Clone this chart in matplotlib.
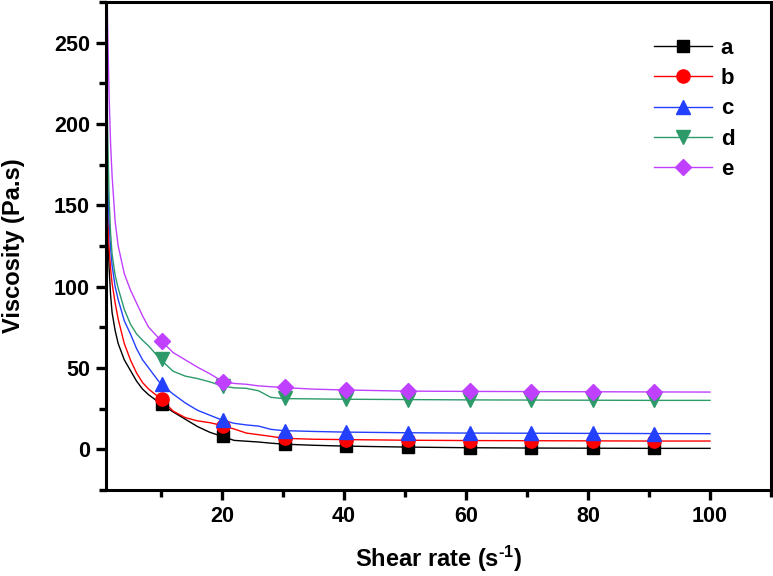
import matplotlib
matplotlib.use("Agg")
import matplotlib.pyplot as plt
from matplotlib.ticker import MultipleLocator

plt.rcParams['font.family'] = ['Liberation Sans', 'DejaVu Sans']
plt.rcParams['font.weight'] = 'bold'
plt.rcParams['mathtext.fontset'] = 'custom'
plt.rcParams['mathtext.rm'] = 'Liberation Sans:bold'
plt.rcParams['mathtext.bf'] = 'Liberation Sans:bold'
plt.rcParams['mathtext.it'] = 'Liberation Sans:bold'

# Shear rate grid for the continuous curves (s^-1)
shear = [1, 1.25, 1.5, 1.75, 2, 2.5, 3, 4, 5, 6, 7, 8, 10, 12, 14, 16, 18, 20, 22, 24, 26,
         28, 30, 35, 40, 50, 60, 70, 80, 90, 100]

visc_a = [175, 137, 112, 95, 84, 73, 65, 55, 48.5, 42, 37, 33.5, 28, 23, 18.5, 14, 10.5, 8, 5.5,
          5, 4.5, 3.8, 3.2, 2.5, 2.0, 1.4, 1.0, 0.8, 0.7, 0.6, 0.6]
visc_b = [190, 150, 124, 111, 102, 90, 80, 65, 55, 47, 41, 37, 31, 23.5, 19.5, 17.5, 16.4, 14.7,
          12.5, 10, 9, 8, 6.8, 6.2, 6.0, 5.6, 5.4, 5.3, 5.2, 5.1, 5.1]
visc_c = [230, 172, 140, 124, 113, 100, 92, 79, 71, 62, 55, 50, 40, 34, 28.5, 24, 21, 18, 16,
          15, 14.3, 12.3, 11.5, 11, 10.6, 10.2, 10, 9.9, 9.8, 9.7, 9.6]
visc_d = [280, 200, 155, 133, 120, 107, 99, 86, 77, 71, 67, 63.5, 55, 48, 45, 43.5, 41.5, 39,
          37.8, 37.5, 36, 32, 31.2, 31, 30.8, 30.6, 30.4, 30.3, 30.2, 30.1, 30.1]
visc_e = [340, 262, 218, 188, 168, 140, 125, 108, 98, 90, 82, 75, 67, 59.5, 55, 50.5, 46.5, 42,
          40.5, 40, 39, 38.5, 38, 37, 36.5, 35.8, 35.6, 35.5, 35.4, 35.3, 35.2]

# Marker positions
shear_m = [10.1, 20.2, 30.3, 40.4, 50.5, 60.6, 70.7, 80.8, 90.9]
mark_a = [28, 8, 3.5, 2, 1.5, 1, 1, 0.8, 0.7]
mark_b = [31, 14.5, 7, 6, 5.6, 5.4, 5.3, 5.2, 5.1]
mark_c = [40, 18, 11.5, 10.6, 10.2, 10, 9.9, 9.8, 9.7]
mark_d = [55.5, 39, 31.3, 30.8, 30.6, 30.4, 30.3, 30.2, 30.1]
mark_e = [66.5, 41.5, 38.2, 36.5, 35.8, 35.6, 35.5, 35.4, 35.2]

labels = ['a', 'b', 'c', 'd', 'e']
colors = ['#000000', '#FF0000', '#2440FF', '#2E9A6A', '#C040FF']
markers = ['s', 'o', '^', 'v', 'D']
msizes = [8.5, 9.5, 9.5, 9.5, 8.5]

curves = [visc_a, visc_b, visc_c, visc_d, visc_e]
marks = [mark_a, mark_b, mark_c, mark_d, mark_e]

fig = plt.figure(figsize=(7.73, 5.76), dpi=100)
ax = fig.add_axes([106/773, 1-490/576, (771-106)/773, (490-2)/576])

for lab, col, mk, ms, cv, mv in zip(labels, colors, markers, msizes, curves, marks):
    ax.plot(shear, cv, color=col, lw=1.0, zorder=2)
    ax.plot(shear_m, mv, linestyle='none', marker=mk, color=col, ms=ms, zorder=3)
    ax.plot([], [], color=col, lw=1.0, marker=mk, ms=ms, label=lab)

ax.set_xlim(1, 110)
ax.set_ylim(-25, 275)
ax.xaxis.set_major_locator(MultipleLocator(20))
ax.xaxis.set_minor_locator(MultipleLocator(10))
ax.yaxis.set_major_locator(MultipleLocator(50))
ax.yaxis.set_minor_locator(MultipleLocator(25))

for s in ax.spines.values():
    s.set_linewidth(2.2)
ax.tick_params(which='major', direction='out', length=7.5, width=2.4, labelsize=15.5,
               top=False, right=False, pad=4)
ax.tick_params(which='minor', direction='out', length=5, width=2.4, top=False, right=False)
for t in ax.get_xticklabels() + ax.get_yticklabels():
    t.set_fontweight('bold')

ax.set_xlabel('Shear rate (s$^{\\text{-}1}$)', fontsize=17, fontweight='bold', labelpad=12)
ax.set_ylabel('Viscosity (Pa.s)', fontsize=17, fontweight='bold', labelpad=21)

leg = ax.legend(loc='upper right', bbox_to_anchor=(0.975, 0.968), frameon=False,
                handlelength=2.6, handletextpad=0.4, labelspacing=0.42,
                prop={'weight': 'bold', 'size': 16})

fig.savefig('out.png', dpi=100)
